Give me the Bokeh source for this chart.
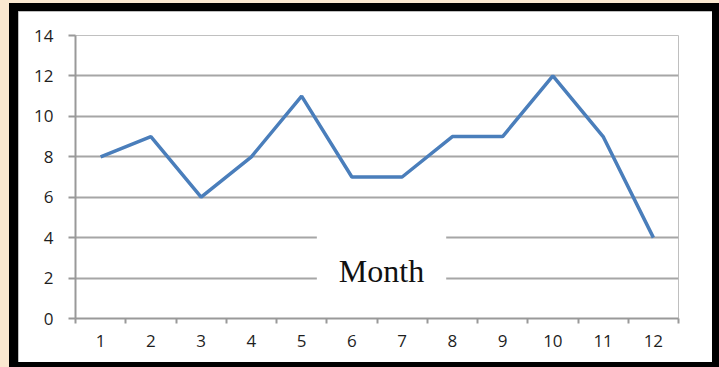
from bokeh.plotting import figure
from bokeh.layouts import column
from bokeh.models import FixedTicker, Range1d, Label
from bokeh.embed import file_html
from bokeh.resources import INLINE

months = [1, 2, 3, 4, 5, 6, 7, 8, 9, 10, 11, 12]
values = [8, 9, 6, 8, 11, 7, 7, 9, 9, 12, 9, 4]
y_ticks = [0, 2, 4, 6, 8, 10, 12, 14]
x_title = "Month"

p = figure(width=694, height=351, output_backend="svg", toolbar_location=None,
           x_range=Range1d(0.5, 12.5), y_range=Range1d(0, 14),
           min_border_left=57, min_border_right=34, min_border_top=24, min_border_bottom=44)
p.border_fill_color = "white"
p.background_fill_color = "white"
p.outline_line_color = None
p.margin = (8, 7, 5, 9)
p.styles = {"outline": "2px solid #a8a8a8", "outline-offset": "-2px"}

p.line(months, values, line_color="#4a7ebb", line_width=3.5)

# y axis
p.yaxis.ticker = FixedTicker(ticks=y_ticks)
p.yaxis.axis_line_color = "#999999"
p.yaxis.axis_line_width = 2
p.yaxis.major_tick_line_color = "#999999"
p.yaxis.major_tick_line_width = 2
p.yaxis.major_tick_out = 7
p.yaxis.major_tick_in = 0
p.yaxis.minor_tick_line_color = None
p.yaxis.major_label_standoff = 15
p.yaxis.major_label_text_font = "Open Sans"
p.yaxis.major_label_text_font_size = "17px"
p.yaxis.major_label_text_color = "#1e1e1e"

# x axis: labels at month centres, ticks between months
p.xaxis.ticker = FixedTicker(ticks=months, minor_ticks=[m - 0.5 for m in months] + [12.5])
p.xaxis.axis_line_color = "#999999"
p.xaxis.axis_line_width = 2
p.xaxis.major_tick_line_color = None
p.xaxis.major_tick_out = 0
p.xaxis.minor_tick_line_color = "#999999"
p.xaxis.minor_tick_line_width = 2
p.xaxis.minor_tick_out = 5
p.xaxis.minor_tick_in = 0
p.xaxis.major_label_standoff = 11
p.xaxis.major_label_text_font = "Open Sans"
p.xaxis.major_label_text_font_size = "17px"
p.xaxis.major_label_text_color = "#1e1e1e"

p.xgrid.grid_line_color = None
p.ygrid.grid_line_color = "#a6a6a6"
p.ygrid.grid_line_width = 2

p.add_layout(Label(x=6.59, y=2.33, text=x_title, text_font="Liberation Serif",
                   text_font_size="32px", text_color="#111111",
                   text_align="center", text_baseline="middle",
                   background_fill_color="white", background_fill_alpha=1,
                   padding=22))

black = column(p, styles={"background-color": "black"}, margin=(3, 0, 0, 9))
outer = column(black, styles={"background-color": "#fae8d0"}, margin=0)

open("out.html", "w").write(file_html(outer, INLINE))
